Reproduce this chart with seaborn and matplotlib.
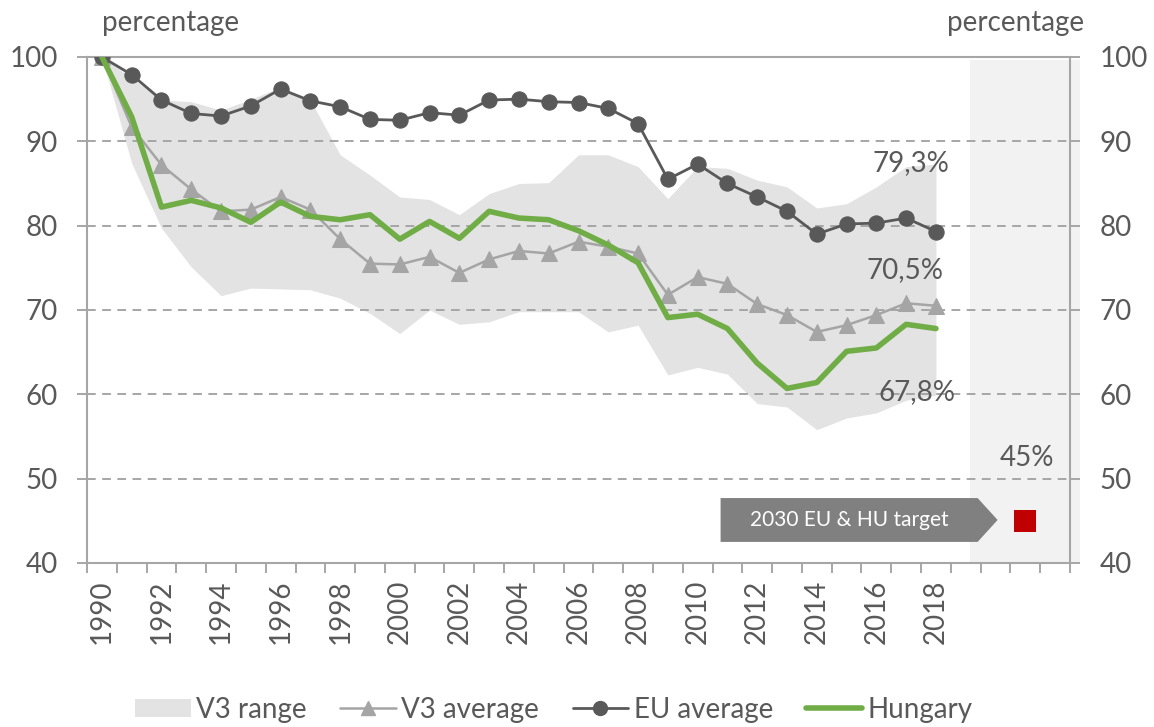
import numpy as np
import pandas as pd
import matplotlib
matplotlib.use("Agg")
import matplotlib.pyplot as plt
from matplotlib.patches import Polygon, Patch
from matplotlib.lines import Line2D
import seaborn as sns

# data (1990 = 100)
years = list(range(1990, 2019))
eu_avg = [100.0, 97.9, 94.9, 93.3, 93.0, 94.2, 96.2, 94.8, 94.1, 92.6, 92.5, 93.4, 93.1,
          94.9, 95.0, 94.7, 94.6, 93.9, 92.1, 85.5, 87.3, 85.0, 83.4, 81.7, 79.0, 80.2,
          80.3, 80.9, 79.3]
v3_avg = [100.0, 91.7, 87.2, 84.3, 81.7, 81.9, 83.4, 81.9, 78.4, 75.5, 75.4, 76.3, 74.4,
          76.0, 77.0, 76.7, 78.1, 77.5, 76.7, 71.8, 73.9, 73.1, 70.7, 69.4, 67.4, 68.2,
          69.4, 70.8, 70.5]
hungary = [100.0, 92.9, 82.2, 83.0, 82.1, 80.4, 82.8, 81.1, 80.7, 81.3, 78.4, 80.5, 78.5,
           81.7, 80.9, 80.7, 79.4, 77.7, 75.6, 69.1, 69.5, 67.8, 63.7, 60.7, 61.4, 65.1,
           65.5, 68.3, 67.8]
v3_max = [100.0, 97.5, 94.9, 94.7, 93.7, 95.0, 96.4, 94.9, 88.4, 86.0, 83.4, 83.1, 81.3,
          83.8, 85.0, 85.1, 88.4, 88.4, 87.0, 83.2, 87.0, 86.8, 85.4, 84.6, 82.1, 82.6,
          84.6, 87.0, 87.3]
v3_min = [100.0, 87.4, 79.7, 75.1, 71.7, 72.6, 72.5, 72.4, 71.4, 69.6, 67.2, 70.0, 68.3,
          68.6, 69.8, 69.8, 69.8, 67.4, 68.2, 62.3, 63.2, 62.4, 58.9, 58.5, 55.8, 57.2,
          57.8, 59.3, 59.9]
target_pos = [2021]   # slot on the category axis used for the 2030 target
target_val = [45]

df = pd.DataFrame({'year': years, 'EU average': eu_avg, 'V3 average': v3_avg,
                   'Hungary': hungary, 'V3 max': v3_max, 'V3 min': v3_min})

TXT = '#595959'
GRID = '#A6A6A6'
GREEN = '#70AD47'

sns.set_theme(style="white")
plt.rcParams['font.family'] = ['Lato', 'DejaVu Sans']

fig, ax = plt.subplots(figsize=(11.54, 7.27), dpi=100)
fig.subplots_adjust(left=0.0754, right=0.9272, top=0.9216, bottom=0.2256)

# target area on the right
ax.axvspan(2019.15, 2022.85, ymin=0, ymax=0.995, color='#F2F2F2', lw=0, clip_on=False, zorder=0)

# V3 range band
ax.fill_between(df['year'], df['V3 min'], df['V3 max'], color='#E3E3E3', lw=0, zorder=1)

for v in [50, 60, 70, 80, 90]:
    ax.axhline(v, color=GRID, lw=1.4, ls=(0, (4.5, 3.3)), zorder=1.5)

sns.lineplot(data=df, x='year', y='V3 average', color='#A5A5A5', lw=1.8, marker='^',
             ms=11, mec='#A5A5A5', ax=ax, zorder=3)
sns.lineplot(data=df, x='year', y='EU average', color=TXT, lw=2.0, marker='o',
             ms=11, mec=TXT, ax=ax, zorder=4)
sns.lineplot(data=df, x='year', y='Hungary', color=GREEN, lw=4.0, ax=ax, zorder=5)

sns.scatterplot(x=target_pos, y=target_val, marker='s', s=260, color='#C00000',
                linewidth=0, ax=ax, zorder=6)

# arrow box pointing to the target
tx, ty = target_pos[0], target_val[0]
arrow = Polygon([(tx - 10.23, ty - 2.5), (tx - 1.6, ty - 2.5), (tx - 0.93, ty + 0.1),
                 (tx - 1.6, ty + 2.7), (tx - 10.23, ty + 2.7)],
                closed=True, color='#808080', lw=0, zorder=6)
ax.add_patch(arrow)
ax.text(tx - 5.9, ty + 0.1, '2030 EU & HU target', color='white', fontsize=15,
        ha='center', va='center', zorder=7)

# value labels
ax.text(2017.15, 87.4, f"{eu_avg[-1]:.1f}%".replace('.', ','), color=TXT, fontsize=20,
        ha='center', va='center')
ax.text(2016.95, 74.75, f"{v3_avg[-1]:.1f}%".replace('.', ','), color=TXT, fontsize=20,
        ha='center', va='center')
ax.text(2017.35, 60.3, f"{hungary[-1]:.1f}%".replace('.', ','), color=TXT, fontsize=20,
        ha='center', va='center')
ax.text(tx + 0.05, 52.45, f"{target_val[0]}%", color=TXT, fontsize=20,
        ha='center', va='center')

# axes
ax.set_xlim(1989.5, 2022.5)
ax.set_ylim(40, 100)
ax.set_yticks(range(40, 101, 10))
ax.set_xticks(range(1990, 2019, 2))
ax.set_xticklabels([str(y) for y in range(1990, 2019, 2)], rotation=90)
ax.set_xticks(np.arange(1989.5, 2023, 1), minor=True)
ax.set_xlabel('')
ax.set_ylabel('')
ax.tick_params(axis='x', which='major', length=0, pad=12, labelsize=20, labelcolor=TXT)
ax.tick_params(axis='x', which='minor', length=7.2, width=1.4, color=GRID, bottom=True)
ax.tick_params(axis='y', length=7.2, width=1.4, color=GRID, labelsize=20, labelcolor=TXT,
               left=True, right=True, labelleft=True, labelright=True, pad=14)
for s in ax.spines.values():
    s.set_color(GRID)
    s.set_linewidth(1.5)

fig.text(0.148, 0.968, 'percentage', color=TXT, fontsize=20, ha='center', va='center')
fig.text(0.880, 0.968, 'percentage', color=TXT, fontsize=20, ha='center', va='center')

handles = [
    Patch(facecolor='#E3E3E3', edgecolor='none', label='V3 range'),
    Line2D([], [], color='#A5A5A5', lw=1.8, marker='^', ms=10, label='V3 average'),
    Line2D([], [], color=TXT, lw=2.0, marker='o', ms=10, label='EU average'),
    Line2D([], [], color=GREEN, lw=4.0, label='Hungary'),
]
fig.legend(handles=handles, loc='center', bbox_to_anchor=(0.48, 0.024), ncol=4,
           frameon=False, fontsize=20, labelcolor=TXT, handlelength=2.0,
           handleheight=0.65, handletextpad=0.2, columnspacing=1.2)

fig.savefig('out.png', dpi=100)
